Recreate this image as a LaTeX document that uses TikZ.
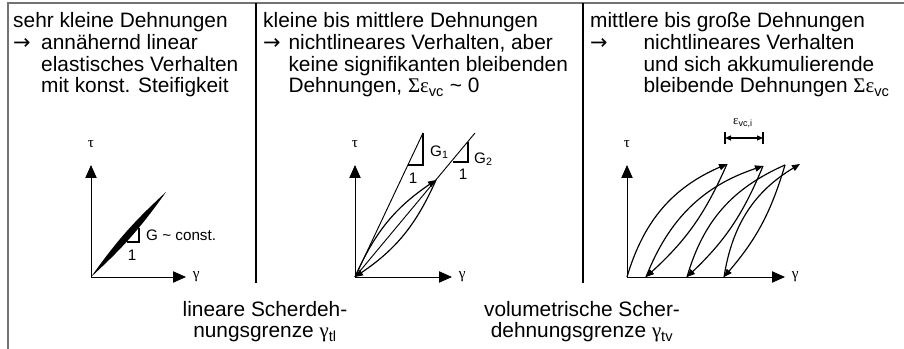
\documentclass[tikz,border=0pt]{standalone}
\usepackage{fontspec}
\setmainfont{Liberation Sans}
\newfontfamily\grk{Liberation Serif}
\newfontfamily\arrowfont{DejaVu Sans}
\usepackage{xcolor}
\usepackage{tikz}
\usetikzlibrary{positioning,arrows.meta,calc}

\newcommand{\lead}{{\arrowfont →}}

\tikzset{
  frame/.style={draw=black!55, line width=1.6pt},
  divider/.style={line width=1.7pt},
  axis/.style={line width=0.8pt, -{Triangle[length=3.9mm,width=3.4mm]}},
  cycle/.style={line width=1pt, -{Triangle[length=2.4mm,width=1.9mm]}},
  secant/.style={line width=0.8pt},
  slopebox/.style={line width=1.4pt},
  coltext/.style={inner sep=0pt, anchor=base west, align=left, font=\fontsize{17.8}{18.5}\selectfont},
  limtext/.style={inner sep=0pt, anchor=base, align=center, font=\fontsize{17.8}{18.7}\selectfont},
  small/.style={inner sep=0pt, font=\fontsize{13}{15}\selectfont},
  greek/.style={inner sep=0pt, font=\fontsize{13}{15}\selectfont\grk},
}

\begin{document}
\begin{tikzpicture}[x=0.03cm, y=-0.03cm]
    \useasboundingbox (0,0) rectangle (904,349);

    % frame and column dividers
    \draw[frame] (8,349) -- (8,3) -- (904,3);
    \coordinate (d1t) at (256,3);
    \coordinate (d1b) at (256,283);
    \coordinate (d2t) at (583,3);
    \coordinate (d2b) at (583,283);
    \draw[divider] (d1t) -- (d1b);
    \draw[divider] (d2t) -- (d2b);

    % column headings (base = last line)
    \node[coltext] (c1) at (13,93) {sehr kleine Dehnungen\\
        \makebox[0.84cm][l]{\lead}annähernd linear\\
        \hspace*{0.84cm}elastisches Verhalten\\
        \hspace*{0.84cm}mit konst. Steifigkeit};
    \node[coltext] (c2) at (263,93) {kleine bis mittlere Dehnungen\\
        \makebox[0.76cm][l]{\lead}nichtlineares Verhalten, aber\\
        \hspace*{0.76cm}keine signifikanten bleibenden\\
        \hspace*{0.76cm}Dehnungen, {\grk Σε}\textsubscript{vc} \textasciitilde{} 0};
    \node[coltext] (c3) at (590,93) {mittlere bis große Dehnungen\\
        \makebox[1.6cm][l]{\lead}nichtlineares Verhalten\\
        \hspace*{1.6cm}und sich akkumulierende\\
        \hspace*{1.6cm}bleibende Dehnungen {\grk Σε}\textsubscript{vc}};

    % diagram 1: linear elastic
    \coordinate (o1) at (91,277);
    \coordinate (y1) at (91,165);
    \coordinate (x1) at (186,277);
    \coordinate (t1) at (166,192);
    \draw[axis] (o1) -- (y1);
    \draw[axis] (o1) -- (x1);
    \node[greek, above=5mm of y1] (tau1) {τ};
    \node[greek, right=2mm of x1] (gam1) {γ};
    \fill (o1) to[bend left=6] (t1) to[bend left=6] (o1);
    \draw[slopebox] (127,242) -- (139,242) -- (139,228);
    \node[small, anchor=west] (g1) at (146,235) {G \textasciitilde{} const.};
    \node[small] (one1) at (132,255) {1};

    % diagram 2: nonlinear, no permanent strain
    \coordinate (o2) at (355,277);
    \coordinate (y2) at (355,165);
    \coordinate (x2) at (452,277);
    \coordinate (e1) at (423,133);
    \coordinate (e2) at (475,133);
    \coordinate (p2) at (436,180);
    \draw[axis] (o2) -- (y2);
    \draw[axis] (o2) -- (x2);
    \node[greek, above=5mm of y2] (tau2) {τ};
    \node[greek, right=2mm of x2] (gam2) {γ};
    \draw[secant] (o2) -- (e1);
    \draw[secant] (o2) -- (e2);
    \draw[cycle] (o2) to[bend left=16] (p2);
    \draw[cycle] (p2) to[bend left=16] (o2);
    \draw[slopebox] (408,165) -- (423,165) -- (e1);
    \draw[slopebox] (453,162) -- (468,162) -- (468,142);
    \node[small, anchor=west] (g21) at (430,152) {G\textsubscript{1}};
    \node[small] (one21) at (413,178) {1};
    \node[small, anchor=west] (g22) at (474,159) {G\textsubscript{2}};
    \node[small] (one22) at (463,174) {1};

    % diagram 3: accumulating permanent strain
    \coordinate (o3) at (627,277);
    \coordinate (y3) at (627,165);
    \coordinate (x3) at (785,277);
    \coordinate (b1) at (646,277);
    \coordinate (b2) at (687,277);
    \coordinate (b3) at (724,277);
    \coordinate (a1) at (727,164);
    \coordinate (a2) at (763,166);
    \coordinate (a3) at (785,165);
    \coordinate (a4) at (800,164);
    \draw[axis] (o3) -- (y3);
    \draw[axis] (o3) -- (x3);
    \node[greek, above=5mm of y3] (tau3) {τ};
    \node[greek, right=2mm of x3] (gam3) {γ};
    \draw[cycle] (o3) to[bend left=25] (a1);
    \draw[cycle] (a1) to[bend left=12] (b1);
    \draw[cycle] (b1) to[bend left=25] (a2);
    \draw[cycle] (a2) to[bend left=12] (b2);
    \draw[line width=1pt] (b2) to[bend left=25] (a3);
    \draw[cycle] (a3) to[bend left=12] (b3);
    \draw[cycle] (b3) to[bend left=25] (a4);

    % strain increment per cycle
    \coordinate (da) at (725,138);
    \coordinate (db) at (763,138);
    \draw[line width=1.2pt] ($(da)+(0,-6)$) -- ($(da)+(0,6)$);
    \draw[line width=1.2pt] ($(db)+(0,-6)$) -- ($(db)+(0,6)$);
    \draw[line width=1pt, {Triangle[length=1.8mm,width=1.5mm]}-{Triangle[length=1.8mm,width=1.5mm]}] (da) -- (db);
    \node[inner sep=0pt, font=\fontsize{11}{13}\selectfont] (eps) at (743,123) {{\grk ε}\textsubscript{vc,i}};

    % threshold strains (base = last line)
    \node[limtext] (ltl) at (265,338) {lineare Scherdeh-\\nungsgrenze {\grk γ}\textsubscript{tl}};
    \node[limtext] (ltv) at (582,338) {volumetrische Scher-\\dehnungsgrenze {\grk γ}\textsubscript{tv}};
\end{tikzpicture}
\end{document}
